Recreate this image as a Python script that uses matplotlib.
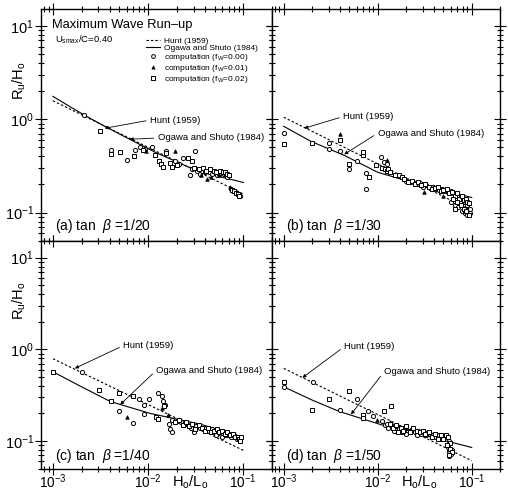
import matplotlib
matplotlib.use("Agg")
import matplotlib.pyplot as plt
from matplotlib.ticker import LogLocator, LogFormatterSciNotation, NullFormatter

plt.rcParams["font.family"] = ["Liberation Sans", "DejaVu Sans"]
plt.rcParams["mathtext.fontset"] = "custom"
plt.rcParams["mathtext.rm"] = "Liberation Sans"
plt.rcParams["mathtext.it"] = "Liberation Sans:italic"
plt.rcParams["mathtext.bf"] = "Liberation Sans:bold"

# ---------------- data ----------------
# Hunt (1959) lines (end points)
hunt_x = [1.0e-3, 0.1]
a_hunt_y = [1.58, 0.158]
b_hunt_y = [1.05, 0.105]
c_hunt_y = [0.79, 0.079]
d_hunt_y = [0.62, 0.061]

# Ogawa and Shuto (1984) curves
a_og_x = [1.0e-3, 1.5e-3, 2.1e-3, 3.5e-3, 6.4e-3, 0.012, 0.026, 0.05, 0.1]
a_og_y = [1.76, 1.37, 1.12, 0.84, 0.61, 0.44, 0.31, 0.25, 0.21]
b_og_x = [1.0e-3, 1.94e-3, 4.4e-3, 0.01, 0.029, 0.06, 0.1]
b_og_y = [0.84, 0.58, 0.41, 0.27, 0.197, 0.165, 0.145]
c_og_x = [1.0e-3, 2.0e-3, 4.0e-3, 0.0105, 0.035, 0.1]
c_og_y = [0.57, 0.39, 0.27, 0.20, 0.153, 0.11]
d_og_x = [1.0e-3, 2.0e-3, 3.9e-3, 0.011, 0.035, 0.1]
d_og_y = [0.39, 0.28, 0.21, 0.15, 0.112, 0.085]

# computations, panel (a) tan beta = 1/20
a_x_fw0 = [2.1e-3, 4.1e-3, 6.0e-3, 7.3e-3, 8.2e-3, 9.3e-3, 0.0109, 0.0155, 0.019, 0.021, 0.023,
           0.0275, 0.031, 0.029, 0.033, 0.035, 0.037, 0.040, 0.044, 0.047, 0.050, 0.053, 0.056,
           0.059, 0.062, 0.065, 0.068, 0.074, 0.078, 0.082, 0.086, 0.090, 0.093]
a_y_fw0 = [1.12, 0.47, 0.37, 0.47, 0.50, 0.48, 0.50, 0.46, 0.36, 0.33, 0.38,
           0.25, 0.46, 0.29, 0.28, 0.26, 0.28, 0.27, 0.27, 0.26, 0.27, 0.25, 0.26,
           0.27, 0.26, 0.25, 0.24, 0.18, 0.17, 0.165, 0.16, 0.155, 0.15]
a_x_fw1 = [0.0095, 0.0193, 0.036, 0.042, 0.046, 0.055, 0.072]
a_y_fw1 = [0.46, 0.46, 0.25, 0.23, 0.24, 0.25, 0.19]
a_x_fw2 = [3.1e-3, 4.1e-3, 5.1e-3, 7.1e-3, 8.8e-3, 0.0117, 0.0129, 0.0135, 0.0145, 0.0155, 0.017,
           0.018, 0.020, 0.026, 0.029, 0.030, 0.034, 0.038, 0.041, 0.045, 0.049, 0.052, 0.057,
           0.061, 0.064, 0.067, 0.070, 0.076, 0.080, 0.084, 0.088, 0.091]
a_y_fw2 = [0.75, 0.42, 0.44, 0.40, 0.47, 0.41, 0.36, 0.33, 0.31, 0.43, 0.34,
           0.31, 0.32, 0.38, 0.36, 0.30, 0.29, 0.30, 0.28, 0.29, 0.28, 0.27, 0.28,
           0.275, 0.27, 0.26, 0.25, 0.175, 0.17, 0.16, 0.158, 0.152]

# panel (b) tan beta = 1/30
b_x_fw0 = [1.0e-3, 3.05e-3, 3.05e-3, 4.0e-3, 5.0e-3, 6.0e-3, 7.5e-3, 7.5e-3, 0.0109, 0.0118, 0.0127,
           0.020, 0.022, 0.024, 0.026, 0.028, 0.030, 0.033, 0.036, 0.039, 0.042, 0.045, 0.048,
           0.052, 0.056, 0.060, 0.064, 0.068, 0.072, 0.076, 0.080, 0.085, 0.090, 0.095, 0.060,
           0.066, 0.072, 0.078, 0.084, 0.090, 0.096]
b_y_fw0 = [0.72, 0.555, 0.48, 0.46, 0.29, 0.36, 0.266, 0.178, 0.39, 0.35, 0.33,
           0.22, 0.215, 0.21, 0.20, 0.205, 0.19, 0.195, 0.185, 0.19, 0.18, 0.175, 0.18,
           0.17, 0.165, 0.17, 0.16, 0.155, 0.15, 0.145, 0.14, 0.13, 0.12, 0.11, 0.13,
           0.12, 0.115, 0.105, 0.10, 0.095, 0.10]
b_x_fw1 = [4.0e-3, 0.0125, 0.031, 0.050]
b_y_fw1 = [0.69, 0.37, 0.165, 0.15]
b_x_fw2 = [1.0e-3, 1.98e-3, 4.0e-3, 5.0e-3, 6.95e-3, 6.95e-3, 8.1e-3, 9.6e-3, 0.011, 0.012, 0.0125,
           0.013, 0.0135, 0.0151, 0.017, 0.018, 0.019, 0.021, 0.023, 0.025, 0.027, 0.029, 0.032,
           0.035, 0.038, 0.041, 0.044, 0.047, 0.050, 0.054, 0.058, 0.062, 0.066, 0.070, 0.074,
           0.078, 0.082, 0.086, 0.090, 0.094, 0.064, 0.070, 0.076, 0.082, 0.088, 0.094, 0.066]
b_y_fw2 = [0.54, 0.56, 0.60, 0.33, 0.41, 0.44, 0.24, 0.32, 0.30, 0.29, 0.28,
           0.29, 0.27, 0.25, 0.25, 0.24, 0.23, 0.21, 0.22, 0.20, 0.21, 0.195, 0.20,
           0.19, 0.18, 0.185, 0.19, 0.17, 0.175, 0.18, 0.16, 0.165, 0.15, 0.16, 0.14,
           0.15, 0.135, 0.14, 0.13, 0.125, 0.14, 0.13, 0.12, 0.11, 0.105, 0.095, 0.108]

# panel (c) tan beta = 1/40
c_x_fw0 = [2.04e-3, 5.0e-3, 7.0e-3, 8.0e-3, 9.1e-3, 9.1e-3, 0.0101, 0.0128, 0.0141, 0.0145, 0.015,
           0.0164, 0.017, 0.0178, 0.018, 0.020, 0.022, 0.024, 0.026, 0.028, 0.030, 0.032, 0.035,
           0.038, 0.041, 0.044, 0.047, 0.050, 0.054, 0.058, 0.062, 0.066, 0.070, 0.075, 0.080,
           0.085, 0.090, 0.093, 0.052, 0.060]
c_y_fw0 = [0.56, 0.215, 0.159, 0.29, 0.25, 0.198, 0.29, 0.33, 0.31, 0.27, 0.25,
           0.153, 0.135, 0.124, 0.17, 0.165, 0.16, 0.155, 0.15, 0.14, 0.125, 0.145, 0.14,
           0.135, 0.14, 0.13, 0.135, 0.125, 0.13, 0.12, 0.125, 0.115, 0.12, 0.11, 0.115,
           0.105, 0.11, 0.10, 0.115, 0.11]
c_x_fw1 = [6.05e-3, 0.014, 0.016]
c_y_fw1 = [0.183, 0.23, 0.19]
c_x_fw2 = [1.0e-3, 3.05e-3, 4.05e-3, 5.0e-3, 7.0e-3, 0.012, 0.0128, 0.0148, 0.019, 0.021, 0.023,
           0.025, 0.027, 0.029, 0.031, 0.034, 0.037, 0.040, 0.043, 0.046, 0.049, 0.053, 0.056,
           0.060, 0.064, 0.068, 0.072, 0.077, 0.082, 0.087, 0.091, 0.094, 0.092]
c_y_fw2 = [0.57, 0.36, 0.27, 0.33, 0.31, 0.183, 0.173, 0.24, 0.16, 0.17, 0.15,
           0.16, 0.145, 0.155, 0.135, 0.15, 0.14, 0.13, 0.14, 0.125, 0.13, 0.135, 0.125,
           0.13, 0.12, 0.125, 0.115, 0.12, 0.11, 0.11, 0.105, 0.11, 0.10]

# panel (d) tan beta = 1/50
d_x_fw0 = [1.0e-3, 2.03e-3, 3.98e-3, 6.0e-3, 7.9e-3, 8.9e-3, 0.011, 0.012, 0.0125, 0.013, 0.014,
           0.015, 0.016, 0.017, 0.018, 0.019, 0.021, 0.023, 0.025, 0.027, 0.029, 0.031, 0.033,
           0.036, 0.039, 0.042, 0.045, 0.048, 0.051, 0.054, 0.057, 0.056, 0.058, 0.060, 0.057,
           0.062, 0.020, 0.026]
d_y_fw0 = [0.39, 0.44, 0.217, 0.287, 0.212, 0.187, 0.165, 0.15, 0.155, 0.14, 0.15,
           0.13, 0.145, 0.135, 0.125, 0.14, 0.13, 0.135, 0.125, 0.13, 0.12, 0.125, 0.115,
           0.12, 0.115, 0.11, 0.115, 0.105, 0.11, 0.105, 0.10, 0.085, 0.078, 0.072, 0.068,
           0.08, 0.12, 0.115]
d_x_fw1 = [9.9e-3, 0.0135, 0.020]
d_y_fw1 = [0.17, 0.16, 0.14]
d_x_fw2 = [1.0e-3, 1.98e-3, 3.0e-3, 4.99e-3, 6.95e-3, 6.95e-3, 0.0118, 0.0137, 0.0135, 0.0145, 0.0155,
           0.0165, 0.0175, 0.0185, 0.020, 0.022, 0.024, 0.026, 0.028, 0.030, 0.032, 0.035, 0.038,
           0.041, 0.044, 0.047, 0.050, 0.053, 0.056, 0.059, 0.055, 0.059, 0.061, 0.058]
d_y_fw2 = [0.44, 0.217, 0.29, 0.347, 0.19, 0.18, 0.212, 0.24, 0.155, 0.14, 0.15,
           0.125, 0.14, 0.13, 0.145, 0.125, 0.14, 0.13, 0.125, 0.13, 0.12, 0.125, 0.11,
           0.12, 0.105, 0.115, 0.105, 0.115, 0.11, 0.095, 0.09, 0.082, 0.075, 0.07]

panel_labels = [r"(a) tan  $\beta$ =1/20", r"(b) tan  $\beta$ =1/30",
                r"(c) tan  $\beta$ =1/40", r"(d) tan  $\beta$ =1/50"]

# annotation anchors: (text position, arrow tip)
a_ann = [((0.0105, 0.98), (3.5e-3, 0.80)), ((0.0127, 0.63), (6.4e-3, 0.61))]
b_ann = [((4.3e-3, 1.07), (1.65e-3, 0.80)), ((0.0100, 0.71), (4.4e-3, 0.42))]
c_ann = [((5.5e-3, 1.10), (1.7e-3, 0.62)), ((0.0122, 0.59), (5.1e-3, 0.25))]
d_ann = [((4.4e-3, 1.07), (1.58e-3, 0.49)), ((0.0117, 0.57), (5.2e-3, 0.195))]

# ---------------- figure ----------------
W, H = 508, 492
fig = plt.figure(figsize=(W / 100, H / 100), dpi=100)

def frac_rect(x0, y0, x1, y1):
    return [x0 / W, 1 - y1 / H, (x1 - x0) / W, (y1 - y0) / H]

rects = [frac_rect(41, 9, 272, 241), frac_rect(272, 9, 500, 241),
         frac_rect(41, 241, 272, 469), frac_rect(272, 241, 500, 469)]

panels = [
    (a_hunt_y, a_og_x, a_og_y, a_x_fw0, a_y_fw0, a_x_fw1, a_y_fw1, a_x_fw2, a_y_fw2, a_ann),
    (b_hunt_y, b_og_x, b_og_y, b_x_fw0, b_y_fw0, b_x_fw1, b_y_fw1, b_x_fw2, b_y_fw2, b_ann),
    (c_hunt_y, c_og_x, c_og_y, c_x_fw0, c_y_fw0, c_x_fw1, c_y_fw1, c_x_fw2, c_y_fw2, c_ann),
    (d_hunt_y, d_og_x, d_og_y, d_x_fw0, d_y_fw0, d_x_fw1, d_y_fw1, d_x_fw2, d_y_fw2, d_ann),
]

mk = dict(linestyle="none", markersize=3.0, markeredgewidth=0.7, markeredgecolor="k")
dash = (0, (2.2, 1.8))

for i, (rect, p) in enumerate(zip(rects, panels)):
    hy, ox, oy, x0, y0, x1, y1, x2, y2, ann = p
    ax = fig.add_axes(rect)
    ax.set_xscale("log")
    ax.set_yscale("log")
    ax.set_xlim(7.5e-4, 0.2)
    ax.set_ylim(0.0495, 15.2)

    l_hunt, = ax.plot(hunt_x, hy, color="k", lw=0.8, linestyle=dash)
    l_og, = ax.plot(ox, oy, color="k", lw=0.8)
    m0, = ax.plot(x0, y0, marker="o", markerfacecolor="white", **mk)
    m1, = ax.plot(x1, y1, marker="^", markerfacecolor="k", linestyle="none",
                  markersize=2.6, markeredgewidth=0.5, markeredgecolor="k")
    m2, = ax.plot(x2, y2, marker="s", markerfacecolor="white", **mk)

    for s in ax.spines.values():
        s.set_linewidth(1.0)
    ax.xaxis.set_major_locator(LogLocator(base=10, numticks=10))
    ax.yaxis.set_major_locator(LogLocator(base=10, numticks=10))
    ax.xaxis.set_minor_locator(LogLocator(base=10, subs=range(2, 10), numticks=20))
    ax.yaxis.set_minor_locator(LogLocator(base=10, subs=range(2, 10), numticks=20))
    ax.xaxis.set_minor_formatter(NullFormatter())
    ax.yaxis.set_minor_formatter(NullFormatter())
    ax.tick_params(which="both", direction="inout", top=True, right=True,
                   width=0.8, labelsize=10.5, pad=1)
    ax.tick_params(which="major", length=8)
    ax.tick_params(which="minor", length=4)
    ax.tick_params(axis="x", which="major", pad=-1.5, labelsize=9.8)
    if i in (0, 1):
        ax.tick_params(labelbottom=False)
    if i in (1, 3):
        ax.tick_params(labelleft=False)
    ax.xaxis.set_major_formatter(LogFormatterSciNotation())
    ax.yaxis.set_major_formatter(LogFormatterSciNotation())

    # panel label
    ax.text(0.062, 0.065 if i < 2 else 0.058, panel_labels[i], transform=ax.transAxes,
            fontsize=10, ha="left", va="center")

    # curve annotations
    for txt, (tpos, tip) in zip(["Hunt (1959)", "Ogawa and Shuto (1984)"], ann):
        ax.annotate(txt, xy=tip, xytext=tpos, fontsize=6.8, ha="left", va="center",
                    arrowprops=dict(arrowstyle="-|>", color="k", lw=0.6, mutation_scale=5,
                                    shrinkA=1, shrinkB=0, relpos=(0, 0.5)))

    if i == 0:
        ax.text(0.048, 0.93, "Maximum Wave Run–up", transform=ax.transAxes,
                fontsize=9.3, ha="left", va="center")
        ax.text(0.062, 0.868, r"U$_{\mathrm{smax}}$/C=0.40", transform=ax.transAxes,
                fontsize=6.8, ha="left", va="center")
        ax.legend([l_hunt, l_og, m0, m1, m2],
                  ["Hunt (1959)", "Ogawa and Shuto (1984)",
                   r"computation (f$_{\mathrm{W}}$=0.00)",
                   r"computation (f$_{\mathrm{W}}$=0.01)",
                   r"computation (f$_{\mathrm{W}}$=0.02)"],
                  loc="upper left", bbox_to_anchor=(0.455, 0.88), frameon=False,
                  fontsize=6.0, handlelength=1.7, handletextpad=0.4, labelspacing=-0.02,
                  borderpad=0, borderaxespad=0, markerscale=0.9)
    if i in (0, 2):
        ax.text(-0.095, 0.69 if i == 0 else 0.74, r"R$_{\mathrm{u}}$/H$_{\mathrm{o}}$",
                transform=ax.transAxes, rotation=90, fontsize=10.5,
                ha="center", va="center")
    if i in (2, 3):
        ax.text(0.567, -0.06, r"H$_{\mathrm{o}}$/L$_{\mathrm{o}}$", transform=ax.transAxes,
                fontsize=10.5, ha="left", va="center")

fig.savefig("out.png", dpi=100)
